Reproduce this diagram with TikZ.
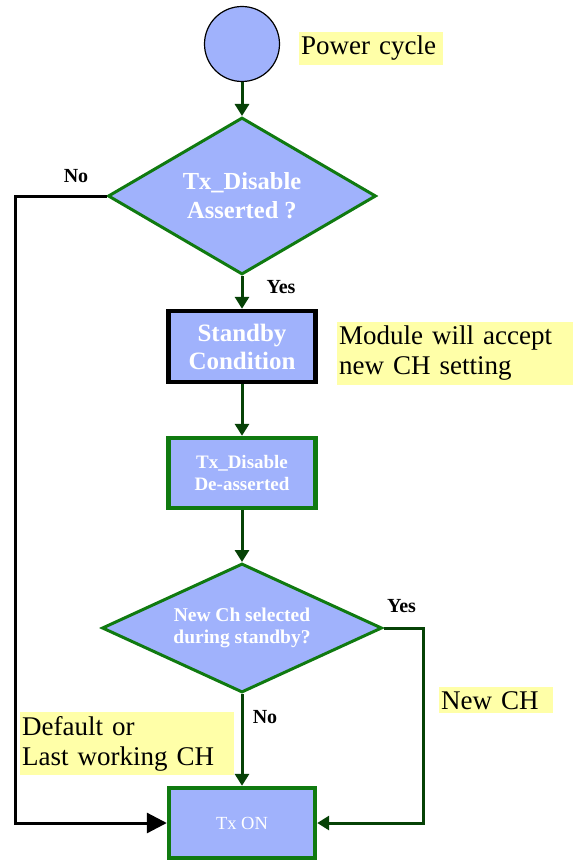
\documentclass[tikz,border=0pt]{standalone}
\usepackage{fontspec}
\setmainfont{Liberation Serif}
\usetikzlibrary{shapes.geometric,arrows.meta}
\definecolor{boxblue}{RGB}{160,178,252}
\definecolor{boxgreen}{RGB}{16,122,16}
\definecolor{flowgreen}{RGB}{6,66,6}
\definecolor{noteyellow}{RGB}{255,255,168}

\tikzset{
  decision/.style={diamond, draw=boxgreen, line width=3pt, fill=boxblue,
    inner sep=0pt, text=white, align=center},
  process/.style={rectangle, draw=boxgreen, line width=4.4pt, fill=boxblue,
    inner sep=0pt, text=white, align=center},
  note/.style={fill=noteyellow, inner xsep=2pt, inner ysep=4pt, align=left,
    anchor=north west, font=\fontsize{27}{30}\selectfont},
  answer/.style={font=\bfseries\fontsize{20}{20}\selectfont},
  flow/.style={draw=flowgreen, line width=3pt,
    -{Triangle[length=12pt,width=14pt]}},
  backflow/.style={draw=black, line width=3pt,
    -{Triangle[length=20pt,width=20pt]}}
}

\begin{document}
\begin{tikzpicture}[x=10pt,y=-10pt]
      \useasboundingbox (0,0) rectangle (57.3,86.1);

      \node[circle, draw=black, line width=1.2pt, fill=boxblue,
        minimum size=75pt, inner sep=0pt] (start) at (24.2,4.4) {};
      \node[note, text width=140pt] (pwrnote) at (29.9,3.2) {Power cycle};

      \node[decision, aspect=1.7, minimum width=268pt, minimum height=157pt,
        font=\bfseries\fontsize{24.5}{29}\selectfont] (dec1) at (24.2,19.6)
        {Tx\_Disable\\Asserted ?};
      \node[process, draw=black, minimum width=147pt, minimum height=71pt,
        font=\bfseries\fontsize{25}{28}\selectfont] (standby) at (24.2,34.65)
        {Standby\\Condition};
      \node[note, text width=232pt] (modnote) at (33.7,32.2)
        {Module will accept\\new CH setting};
      \node[process, minimum width=147pt, minimum height=70pt,
        font=\bfseries\fontsize{19}{22}\selectfont] (deassert) at (24.2,47.3)
        {Tx\_Disable\\De-asserted};
      \node[decision, aspect=2.15, minimum width=280pt, minimum height=129pt,
        font=\bfseries\fontsize{19.5}{22}\selectfont] (dec2) at (24.2,62.8)
        {New Ch selected\\during standby?};
      \node[process, minimum width=146pt, minimum height=70pt,
        font=\fontsize{18.5}{20}\selectfont] (txon) at (24.2,82.3) {Tx ON};

      \node[note, text width=210pt] (dftnote) at (2.0,71.2)
        {Default or\\Last working CH};
      \node[note, text width=110pt] (newnote) at (43.9,68.7) {New CH};

      \node[answer] (no1) at (7.6,17.6) {No};
      \node[answer] (yes1) at (28.1,28.75) {Yes};
      \node[answer] (yes2) at (40.15,60.6) {Yes};
      \node[answer] (no2) at (26.5,71.7) {No};

      \coordinate (lft) at (1.5,50);
      \coordinate (rgt) at (42.3,72);

      \draw[flow] (start) -- (dec1);
      \draw[flow] (dec1) -- (standby);
      \draw[flow] (standby) -- (deassert);
      \draw[flow] (deassert) -- (dec2);
      \draw[flow] (dec2) -- (txon);
      \draw[backflow] (dec1.west) -| (lft) |- (txon.west);
      \draw[flow] (dec2.east) -| (rgt) |- (txon.east);
    \end{tikzpicture}
\end{document}
